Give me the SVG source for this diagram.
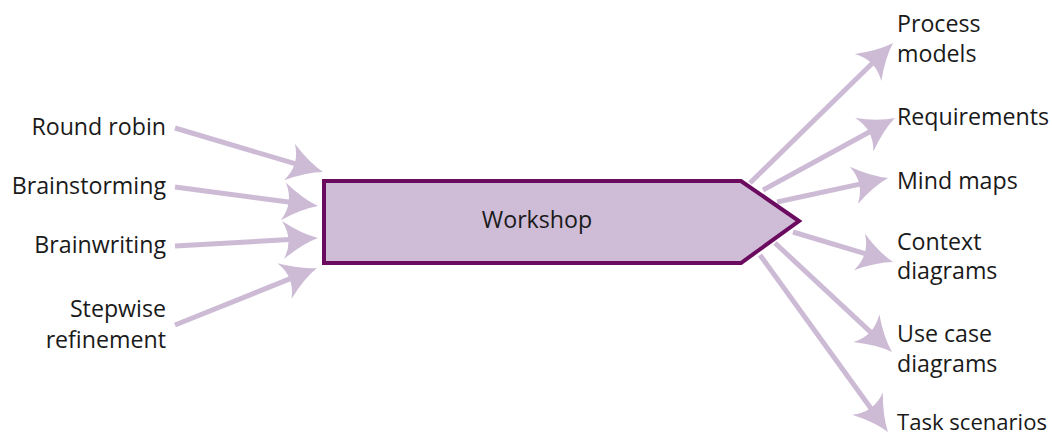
<svg xmlns="http://www.w3.org/2000/svg" width="1052" height="437" viewBox="0 0 1052 437">
  <defs>
    <style>
      .lbl { font-family: "Open Sans", "Liberation Sans", sans-serif; font-size: 23.2px; fill: #1a1a1a; }
      .in { text-anchor: end; }
      .flow { fill: none; stroke: #cdbbd6; stroke-width: 5; marker-end: url(#head); }
      .node { fill: #cfbcd7; stroke: #6a0b5f; stroke-width: 4; stroke-linejoin: miter; }
    </style>
    <!-- swallow-tail arrowhead; tip sits 24 units past the line end -->
    <marker id="head" markerUnits="userSpaceOnUse" viewBox="-40 -25 70 50" markerWidth="70" markerHeight="50" refX="0" refY="0" orient="auto">
      <path d="M24,0 Q8,-5 -11,-19 Q0,0 -11,19 Q8,5 24,0 Z" fill="#cdbbd6"/>
    </marker>
  </defs>

  <g id="connectors">
    <!-- inputs -->
    <path class="flow" d="M175,128 L300,165.2"/>
    <path class="flow" d="M175,187 L294.2,202.8"/>
    <path class="flow" d="M175,246 L294,239.3"/>
    <path class="flow" d="M175,325 L294.7,276.9"/>
    <!-- outputs -->
    <path class="flow" d="M750,183 L875.9,59.8"/>
    <path class="flow" d="M763,190 L873.9,129.5"/>
    <path class="flow" d="M777,202 L864.6,183.1"/>
    <path class="flow" d="M793,232 L870,255.1"/>
    <path class="flow" d="M775,243 L874.4,335.6"/>
    <path class="flow" d="M760,255 L873.9,412.5"/>
  </g>

  <g id="workshop">
    <polygon class="node" points="324,181 741,181 799,221 741,263 324,263"/>
    <text class="lbl" x="537" y="228" text-anchor="middle">Workshop</text>
  </g>

  <g id="round-robin"><text class="lbl in" x="166" y="135">Round robin</text></g>
  <g id="brainstorming"><text class="lbl in" x="166" y="194">Brainstorming</text></g>
  <g id="brainwriting"><text class="lbl in" x="166" y="253">Brainwriting</text></g>
  <g id="stepwise-refinement">
    <text class="lbl in" x="166" y="317">Stepwise</text>
    <text class="lbl in" x="166" y="348">refinement</text>
  </g>

  <g id="process-models">
    <text class="lbl" x="897" y="32">Process</text>
    <text class="lbl" x="897" y="62">models</text>
  </g>
  <g id="requirements"><text class="lbl" x="897" y="125">Requirements</text></g>
  <g id="mind-maps"><text class="lbl" x="897" y="189">Mind maps</text></g>
  <g id="context-diagrams">
    <text class="lbl" x="897" y="250">Context</text>
    <text class="lbl" x="897" y="279">diagrams</text>
  </g>
  <g id="use-case-diagrams">
    <text class="lbl" x="897" y="342">Use case</text>
    <text class="lbl" x="897" y="372">diagrams</text>
  </g>
  <g id="task-scenarios"><text class="lbl" x="897" y="430" style="font-size:22px" textLength="150" lengthAdjust="spacingAndGlyphs">Task scenarios</text></g>
</svg>
